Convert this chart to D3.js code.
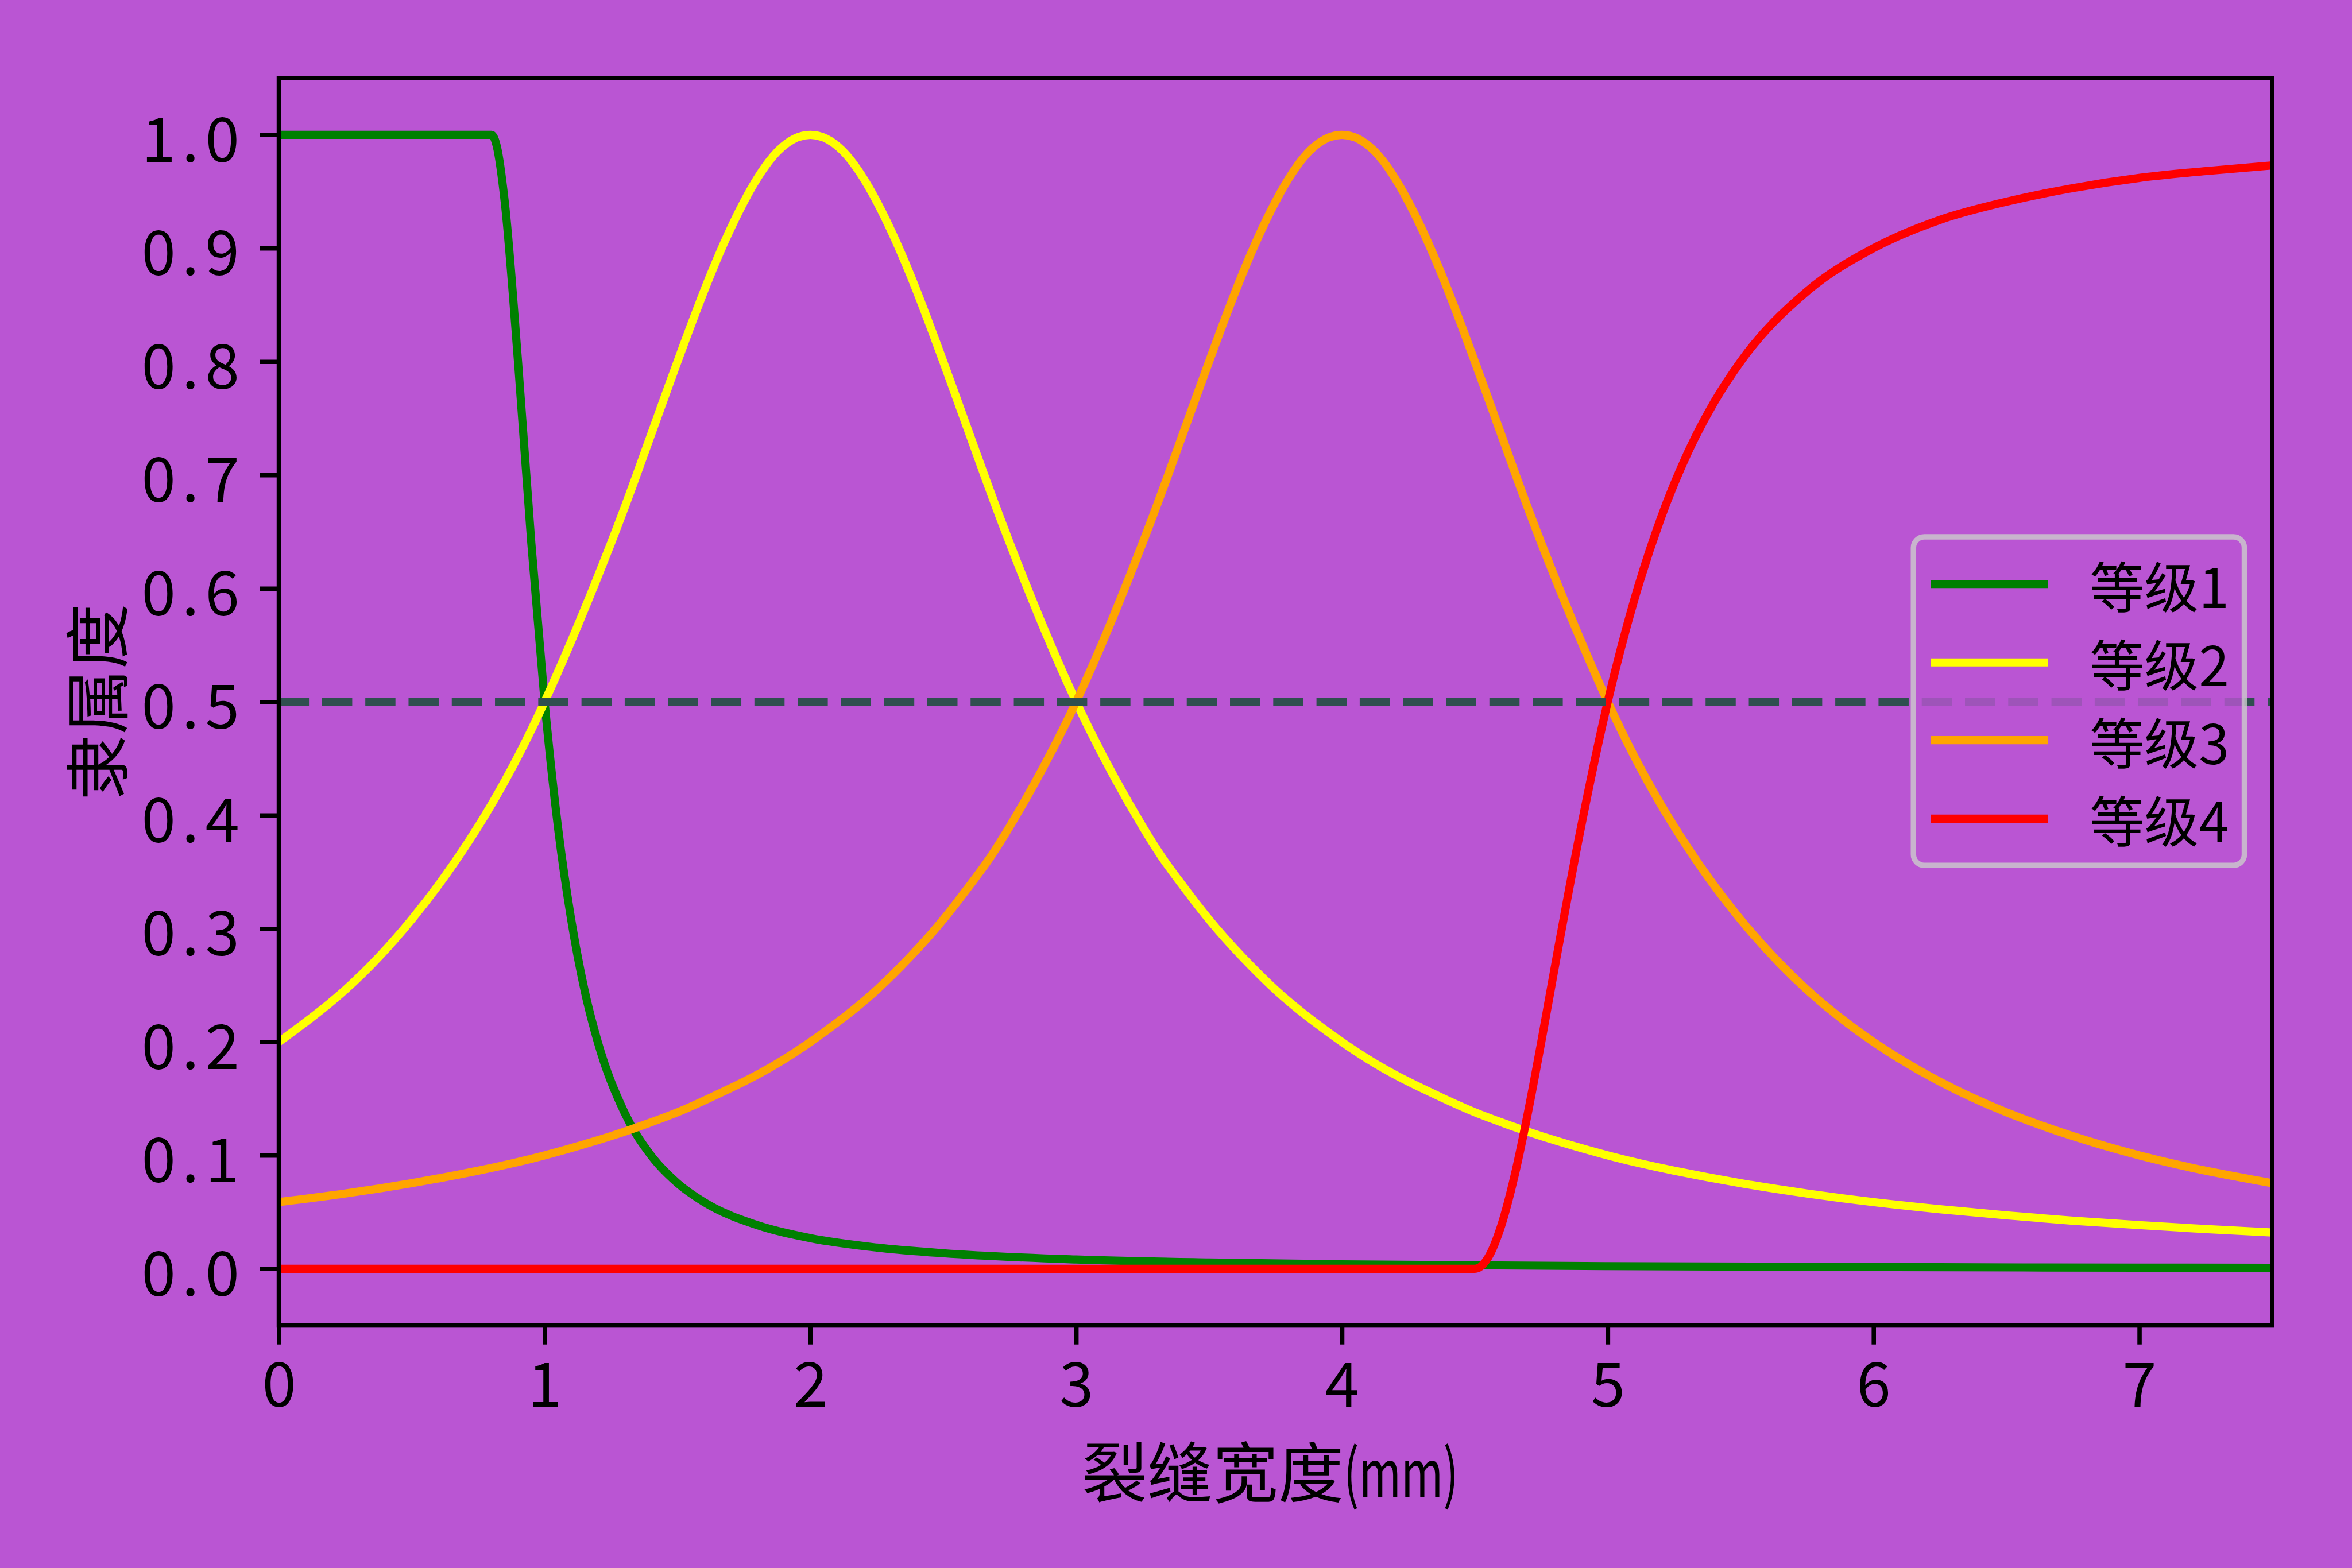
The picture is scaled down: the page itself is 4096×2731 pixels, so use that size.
<!DOCTYPE html>
<html><head><meta charset="utf-8">
<script src="https://cdn.jsdelivr.net/npm/d3@7"></script>
<style>html,body{margin:0;padding:0;background:#BA55D3;overflow:hidden}</style>
</head><body><svg id="c" width="4096" height="2731" xmlns="http://www.w3.org/2000/svg"></svg>
<script>
// ---- data ----
const seriesNames = ["等级1", "等级2", "等级3", "等级4"];
const seriesColors = ["#008000", "#FFFF00", "#FFA500", "#FF0000"];

const xTicks = [0, 1, 2, 3, 4, 5, 6, 7];
const xTickLabels = ["0", "1", "2", "3", "4", "5", "6", "7"];
const yTicks = [0, 0.1, 0.2, 0.3, 0.4, 0.5, 0.6, 0.7, 0.8, 0.9, 1.0];
const yTickLabels = ["0.0", "0.1", "0.2", "0.3", "0.4", "0.5", "0.6", "0.7", "0.8", "0.9", "1.0"];

const xGrade1 = [0, 0.8, 0.82, 0.85, 0.9, 0.95, 1.0, 1.05, 1.1, 1.15, 1.2, 1.3, 1.4, 1.5, 1.6, 1.8, 2.0, 2.25, 2.5, 3.0, 3.5, 4.0, 5.0, 6.0, 7.0, 7.5];
const grade1 = [1, 1, 0.990, 0.941, 0.800, 0.640, 0.500, 0.390, 0.308, 0.246, 0.200, 0.138, 0.100, 0.0755, 0.0588, 0.0385, 0.0270, 0.0187, 0.0137, 0.0082, 0.0055, 0.0039, 0.0023, 0.0015, 0.0010, 0.0009];

const xGrade23 = [0, 0.25, 0.5, 0.75, 1.0, 1.25, 1.375, 1.5, 1.625, 1.75, 1.875, 2.0, 2.125, 2.25, 2.375, 2.5, 2.625, 2.75, 3.0, 3.25, 3.375, 3.5, 3.625, 3.75, 3.875, 4.0, 4.125, 4.25, 4.375, 4.5, 4.625, 4.75, 5.0, 5.25, 5.5, 5.75, 6.0, 6.25, 6.5, 6.75, 7.0, 7.25, 7.5];
const grade2 = [0.200, 0.246, 0.308, 0.390, 0.500, 0.640, 0.719, 0.800, 0.877, 0.941, 0.985, 1.000, 0.985, 0.941, 0.877, 0.800, 0.719, 0.640, 0.500, 0.390, 0.346, 0.308, 0.275, 0.246, 0.2215, 0.200, 0.181, 0.165, 0.151, 0.138, 0.127, 0.117, 0.100, 0.0865, 0.0755, 0.0664, 0.0588, 0.0525, 0.0471, 0.0424, 0.0385, 0.0350, 0.0320];
const grade3 = [0.0588, 0.0664, 0.0755, 0.0865, 0.100, 0.117, 0.127, 0.138, 0.151, 0.165, 0.181, 0.200, 0.2215, 0.246, 0.275, 0.308, 0.346, 0.390, 0.500, 0.640, 0.719, 0.800, 0.877, 0.941, 0.985, 1.000, 0.985, 0.941, 0.877, 0.800, 0.719, 0.640, 0.500, 0.390, 0.308, 0.246, 0.200, 0.165, 0.138, 0.117, 0.100, 0.0865, 0.0755];

const xGrade4 = [0, 4.5, 4.55, 4.6, 4.65, 4.7, 4.75, 4.8, 4.9, 5.0, 5.1, 5.2, 5.3, 5.4, 5.5, 5.75, 6.0, 6.25, 6.5, 6.75, 7.0, 7.25, 7.5];
const grade4 = [0, 0, 0.0099, 0.0385, 0.0826, 0.138, 0.200, 0.265, 0.390, 0.500, 0.590, 0.662, 0.719, 0.764, 0.800, 0.862, 0.900, 0.925, 0.941, 0.953, 0.962, 0.968, 0.973];

const thresholdValue = [0.5];
const xLabelMain = "裂缝宽度";
const xLabelUnit = "(mm)";
const yLabel = "隶属度";

// ---- drawing ----
const S = 0.682;
const W = 4096, H = 2731;
const bg = "#BA55D3";
const font = "'Noto Sans CJK SC', 'Noto Sans', sans-serif";

const plot = {left: 712 * S, right: 5802 * S, top: 199.5 * S, bottom: 3385 * S};
const x = d3.scaleLinear().domain([0, 7.5]).range([plot.left, plot.right]);
const y = d3.scaleLinear().domain([-0.05, 1.05]).range([plot.bottom, plot.top]);

const svg = d3.select("#c");
svg.append("rect").attr("width", W).attr("height", H).attr("fill", bg);

const defs = svg.append("defs");
defs.append("clipPath").attr("id", "clip").append("rect")
  .attr("x", plot.left).attr("y", plot.top)
  .attr("width", plot.right - plot.left).attr("height", plot.bottom - plot.top);

const lw = 20.8 * S;
const spineW = 11.1 * S;
const tickLen = 48.6 * S;

const series = [
  {xs: xGrade1, ys: grade1, curve: d3.curveMonotoneX},
  {xs: xGrade23, ys: grade2, curve: d3.curveNatural},
  {xs: xGrade23, ys: grade3, curve: d3.curveNatural},
  {xs: xGrade4, ys: grade4, curve: d3.curveMonotoneX}
];

const gCurves = svg.append("g").attr("clip-path", "url(#clip)");
series.forEach((s, i) => {
  const line = d3.line().x(d => x(d[0])).y(d => y(d[1])).curve(s.curve);
  const pts = s.xs.map((xv, k) => [xv, s.ys[k]]);
  gCurves.append("path").datum(pts)
    .attr("d", line)
    .attr("fill", "none")
    .attr("stroke", seriesColors[i])
    .attr("stroke-width", lw)
    .attr("stroke-linejoin", "round")
    .attr("stroke-linecap", "butt");
});

// dashed threshold line
gCurves.selectAll("line.thr").data(thresholdValue).enter().append("line")
  .attr("class", "thr")
  .attr("x1", plot.left).attr("x2", plot.right)
  .attr("y1", d => y(d)).attr("y2", d => y(d))
  .attr("stroke", "#2F4F4F").attr("stroke-width", lw)
  .attr("stroke-dasharray", `${77 * S} ${33.4 * S}`)
  .attr("stroke-linecap", "butt");

// axes
const xAxis = d3.axisBottom(x).tickValues(xTicks).tickFormat((d, i) => xTickLabels[i])
  .tickSizeInner(tickLen).tickSizeOuter(0).tickPadding(tickLen);
const yAxis = d3.axisLeft(y).tickValues(yTicks).tickFormat((d, i) => yTickLabels[i])
  .tickSizeInner(tickLen).tickSizeOuter(0).tickPadding(tickLen);

const gx = svg.append("g").attr("transform", `translate(0,${plot.bottom})`).call(xAxis);
const gy = svg.append("g").attr("transform", `translate(${plot.left},0)`).call(yAxis);
[gx, gy].forEach(g => {
  g.select(".domain").remove();
  g.selectAll(".tick line").attr("stroke", "#000").attr("stroke-width", spineW);
  g.selectAll(".tick text").attr("fill", "#000").attr("font-family", font).attr("font-size", 107);
});
gx.selectAll(".tick text").attr("dy", null).attr("y", 2450 - plot.bottom);
const ls = 11;
gy.selectAll(".tick text")
  .attr("dy", null)
  .attr("dominant-baseline", "central")
  .attr("letter-spacing", ls)
  .attr("x", -(plot.left - 417) + ls);

// spines
svg.append("rect")
  .attr("x", plot.left).attr("y", plot.top)
  .attr("width", plot.right - plot.left).attr("height", plot.bottom - plot.top)
  .attr("fill", "none").attr("stroke", "#000").attr("stroke-width", spineW);

// axis labels
const xl = svg.append("text")
  .attr("x", 2212).attr("y", 2557)
  .attr("text-anchor", "middle").attr("dominant-baseline", "central")
  .attr("font-family", font).attr("font-size", 114).attr("fill", "#000");
xl.append("tspan").text(xLabelMain);
xl.append("tspan").text(xLabelUnit).attr("textLength", 200).attr("lengthAdjust", "spacingAndGlyphs");

svg.append("text").text(yLabel)
  .attr("transform", `translate(162,${(plot.top + plot.bottom) / 2}) rotate(-90)`)
  .attr("text-anchor", "middle").attr("dominant-baseline", "central")
  .attr("font-family", font).attr("font-size", 114).attr("fill", "#000");

// legend
const lg = svg.append("g");
const fr = {x1: 4886 * S, x2: 5731 * S, y1: 1371 * S, y2: 2210 * S};
lg.append("rect")
  .attr("x", fr.x1).attr("y", fr.y1)
  .attr("width", fr.x2 - fr.x1).attr("height", fr.y2 - fr.y1)
  .attr("rx", 27.8 * S).attr("ry", 27.8 * S)
  .attr("fill", "rgba(186,85,211,0.8)")
  .attr("stroke", "rgba(204,204,204,0.8)")
  .attr("stroke-width", 13.9 * S);
const rowY = [1491.3, 1691.7, 1890.3, 2090.6].map(v => v * S);
seriesNames.forEach((name, i) => {
  lg.append("line")
    .attr("x1", 4930 * S).attr("x2", 5229 * S)
    .attr("y1", rowY[i]).attr("y2", rowY[i])
    .attr("stroke", seriesColors[i]).attr("stroke-width", lw);
  lg.append("text").text(name)
    .attr("x", 5336 * S).attr("y", rowY[i])
    .attr("dominant-baseline", "central")
    .attr("font-family", font).attr("font-size", 95).attr("fill", "#000");
});
</script>
</body></html>
